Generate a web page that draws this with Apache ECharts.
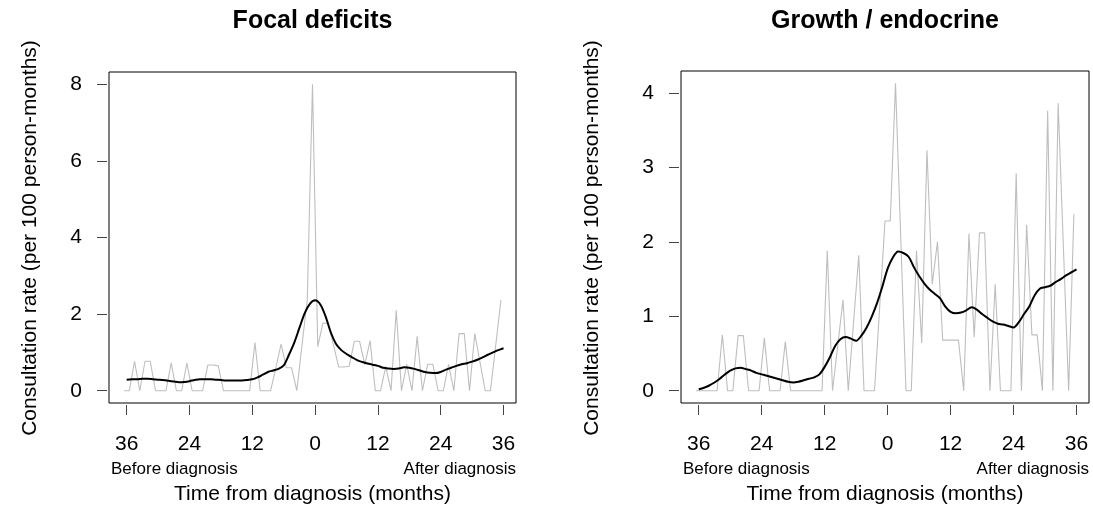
<!DOCTYPE html>
<html><head><meta charset="utf-8">
<script src="https://cdn.jsdelivr.net/npm/echarts@6/dist/echarts.min.js"></script>
<style>html,body{margin:0;padding:0;background:#fff}#c{width:1093px;height:508px}</style>
</head><body><div id="c"></div>
<script>
// ---- data ----
const panelTitles = ['Focal deficits', 'Growth / endocrine'];
const xTitle = 'Time from diagnosis (months)';
const yTitle = 'Consultation rate (per 100 person-months)';
const beforeLabel = 'Before diagnosis';
const afterLabel = 'After diagnosis';
const xTickValues = [-36, -24, -12, 0, 12, 24, 36];
const xTickLabels = ['36', '24', '12', '0', '12', '24', '36'];
const focalYTicks = [0, 2, 4, 6, 8];
const growthYTicks = [0, 1, 2, 3, 4];

// monthly observed rates (grey line)
const rawMonths = [-36.5,-35.5,-34.5,-33.5,-32.5,-31.5,-30.5,-29.5,-28.5,-27.5,-26.5,-25.5,-24.5,-23.5,-22.5,-21.5,-20.5,-19.5,-18.5,-17.5,-16.5,-15.5,-14.5,-13.5,-12.5,-11.5,-10.5,-9.5,-8.5,-7.5,-6.5,-5.5,-4.5,-3.5,-2.5,-1.5,-0.5,0.5,1.5,2.5,3.5,4.5,5.5,6.5,7.5,8.5,9.5,10.5,11.5,12.5,13.5,14.5,15.5,16.5,17.5,18.5,19.5,20.5,21.5,22.5,23.5,24.5,25.5,26.5,27.5,28.5,29.5,30.5,31.5,32.5,33.5,34.5,35.5];
const focalRaw = [0,0,0.77,0,0.77,0.77,0,0,0,0.73,
  0,0,0.72,0,0,0,0.67,0.67,0.65,0,
  0,0,0,0,0,1.26,0,0,0,0.6,
  1.22,0.6,0.6,0,1.2,2.37,8.0,1.15,1.77,1.75,
  1.2,0.62,0.62,0.64,1.29,1.29,0.68,1.31,0,0,
  0.63,0,2.1,0,0.69,0,1.42,0,0.69,0.69,
  0,0,0.69,0,1.49,1.49,0,1.49,0.75,0,
  0,1.18,2.37];
const growthRaw = [0,0,0,0,0,0.75,0,0,0.74,0.74,
  0,0,0,0.71,0,0,0,0.66,0,0,
  0,0,0,0,0,1.88,0,0.61,1.22,0,
  0.91,1.82,0,0,0,1.14,2.28,2.28,4.13,2.06,
  0,0,1.88,0.64,3.23,1.43,2.0,0.68,0.68,0.68,
  0.68,0,2.11,0.72,2.12,2.12,0,1.43,0,0,
  0,2.92,0,2.23,0.75,0.75,0,3.76,0,3.86,
  1.93,0,2.37];

// smoothed rates (black line)
const smoothMonths = [-36,-35,-34,-33,-32,-31,-30,-29,-28,-27,-26,-25,-24,-23,-22,-21,-20,-19,-18,-17,-16,-15,-14,-13,-12,-11,-10,-9,-8,-7,-6,-5,-4,-3,-2,-1,0,1,2,3,4,5,6,7,8,9,10,11,12,13,14,15,16,17,18,19,20,21,22,23,24,25,26,27,28,29,30,31,32,33,34,35,36];
const focalSmooth = [0.29,0.30,0.30,0.31,0.31,0.30,0.29,0.28,0.26,0.24,
  0.22,0.23,0.25,0.28,0.30,0.30,0.30,0.29,0.28,0.27,
  0.27,0.27,0.27,0.28,0.30,0.35,0.42,0.49,0.53,0.57,
  0.66,0.94,1.25,1.64,2.02,2.27,2.36,2.25,1.94,1.52,
  1.22,1.06,0.96,0.88,0.80,0.75,0.71,0.68,0.65,0.60,
  0.58,0.57,0.58,0.61,0.60,0.57,0.53,0.49,0.47,0.46,
  0.49,0.55,0.60,0.65,0.69,0.72,0.76,0.81,0.87,0.94,
  1.0,1.06,1.11];
const growthSmooth = [0.02,0.04,0.07,0.11,0.16,0.22,0.27,0.30,0.31,0.29,
  0.27,0.24,0.22,0.20,0.18,0.16,0.14,0.12,0.11,0.12,
  0.14,0.16,0.18,0.22,0.32,0.45,0.60,0.69,0.72,0.70,
  0.67,0.74,0.85,1.0,1.18,1.40,1.64,1.79,1.87,1.85,
  1.80,1.66,1.54,1.44,1.36,1.30,1.24,1.13,1.06,1.04,
  1.05,1.08,1.12,1.09,1.03,0.98,0.93,0.90,0.89,0.87,
  0.85,0.92,1.03,1.13,1.28,1.37,1.39,1.41,1.46,1.50,
  1.55,1.59,1.63];

// ---- chart ----
const FONT = '"Liberation Sans", Arial, sans-serif';
const grids = [
  {left: 109, top: 72, width: 407, height: 331},
  {left: 681, top: 71, width: 408, height: 332}
];
const yRanges = [[-0.32, 8.32], [-0.165, 4.295]];
const yTicks = [focalYTicks, growthYTicks];
const rawSets = [focalRaw, growthRaw];
const smoothSets = [focalSmooth, growthSmooth];

const option = {
  animation: false,
  backgroundColor: '#fff',
  grid: grids.map(g => Object.assign({show: true, borderColor: '#000', borderWidth: 1, backgroundColor: 'transparent'}, g)),
  xAxis: grids.map((g, k) => ({
    type: 'value', gridIndex: k, min: -39.38, max: 38.38, position: 'bottom',
    offset: 2,
    axisLine: {show: false, onZero: false}, splitLine: {show: false},
    axisTick: {show: true, length: 10, customValues: xTickValues, lineStyle: {color: '#444', width: 1}},
    axisLabel: {customValues: xTickValues, margin: 29, fontSize: 21, color: '#000', fontFamily: FONT,
      formatter: v => xTickLabels[xTickValues.indexOf(v)]}
  })),
  yAxis: grids.map((g, k) => ({
    type: 'value', gridIndex: k, min: yRanges[k][0], max: yRanges[k][1], position: 'left',
    offset: 2,
    axisLine: {show: false, onZero: false}, splitLine: {show: false},
    axisTick: {show: true, length: 10, customValues: yTicks[k], lineStyle: {color: '#444', width: 1}},
    axisLabel: {customValues: yTicks[k], margin: 25, fontSize: 21, color: '#000', fontFamily: FONT,
      formatter: v => String(v)}
  })),
  series: [],
  graphic: []
};
for (let k = 0; k < 2; k++) {
  option.series.push({
    type: 'line', xAxisIndex: k, yAxisIndex: k, silent: true, showSymbol: false, z: 1,
    lineStyle: {color: '#bebebe', width: 1.1},
    data: rawMonths.map((m, i) => [m, rawSets[k][i]])
  });
  option.series.push({
    type: 'line', xAxisIndex: k, yAxisIndex: k, silent: true, showSymbol: false, z: 2, smooth: 0.3,
    lineStyle: {color: '#000', width: 2},
    data: smoothMonths.map((m, i) => [m, smoothSets[k][i]])
  });
  const g = grids[k];
  const cx = g.left + g.width / 2;
  option.graphic.push(
    {type: 'text', x: cx, y: 21, style: {text: panelTitles[k], font: 'bold 25px ' + FONT, fill: '#000', textAlign: 'center', textVerticalAlign: 'middle'}},
    {type: 'text', x: g.left + 2, y: 469, style: {text: beforeLabel, font: '17px ' + FONT, fill: '#000', textAlign: 'left', textVerticalAlign: 'middle'}},
    {type: 'text', x: g.left + g.width, y: 469, style: {text: afterLabel, font: '17px ' + FONT, fill: '#000', textAlign: 'right', textVerticalAlign: 'middle'}},
    {type: 'text', x: cx, y: 494, style: {text: xTitle, font: '21px ' + FONT, fill: '#000', textAlign: 'center', textVerticalAlign: 'middle'}},
    {type: 'text', x: k === 0 ? 30 : 592, y: 238, rotation: Math.PI / 2, style: {text: yTitle, font: '21px ' + FONT, fill: '#000', textAlign: 'center', textVerticalAlign: 'middle'}}
  );
}
const chart = echarts.init(document.getElementById('c'), null, {renderer: 'canvas'});
chart.setOption(option);
</script></body></html>
